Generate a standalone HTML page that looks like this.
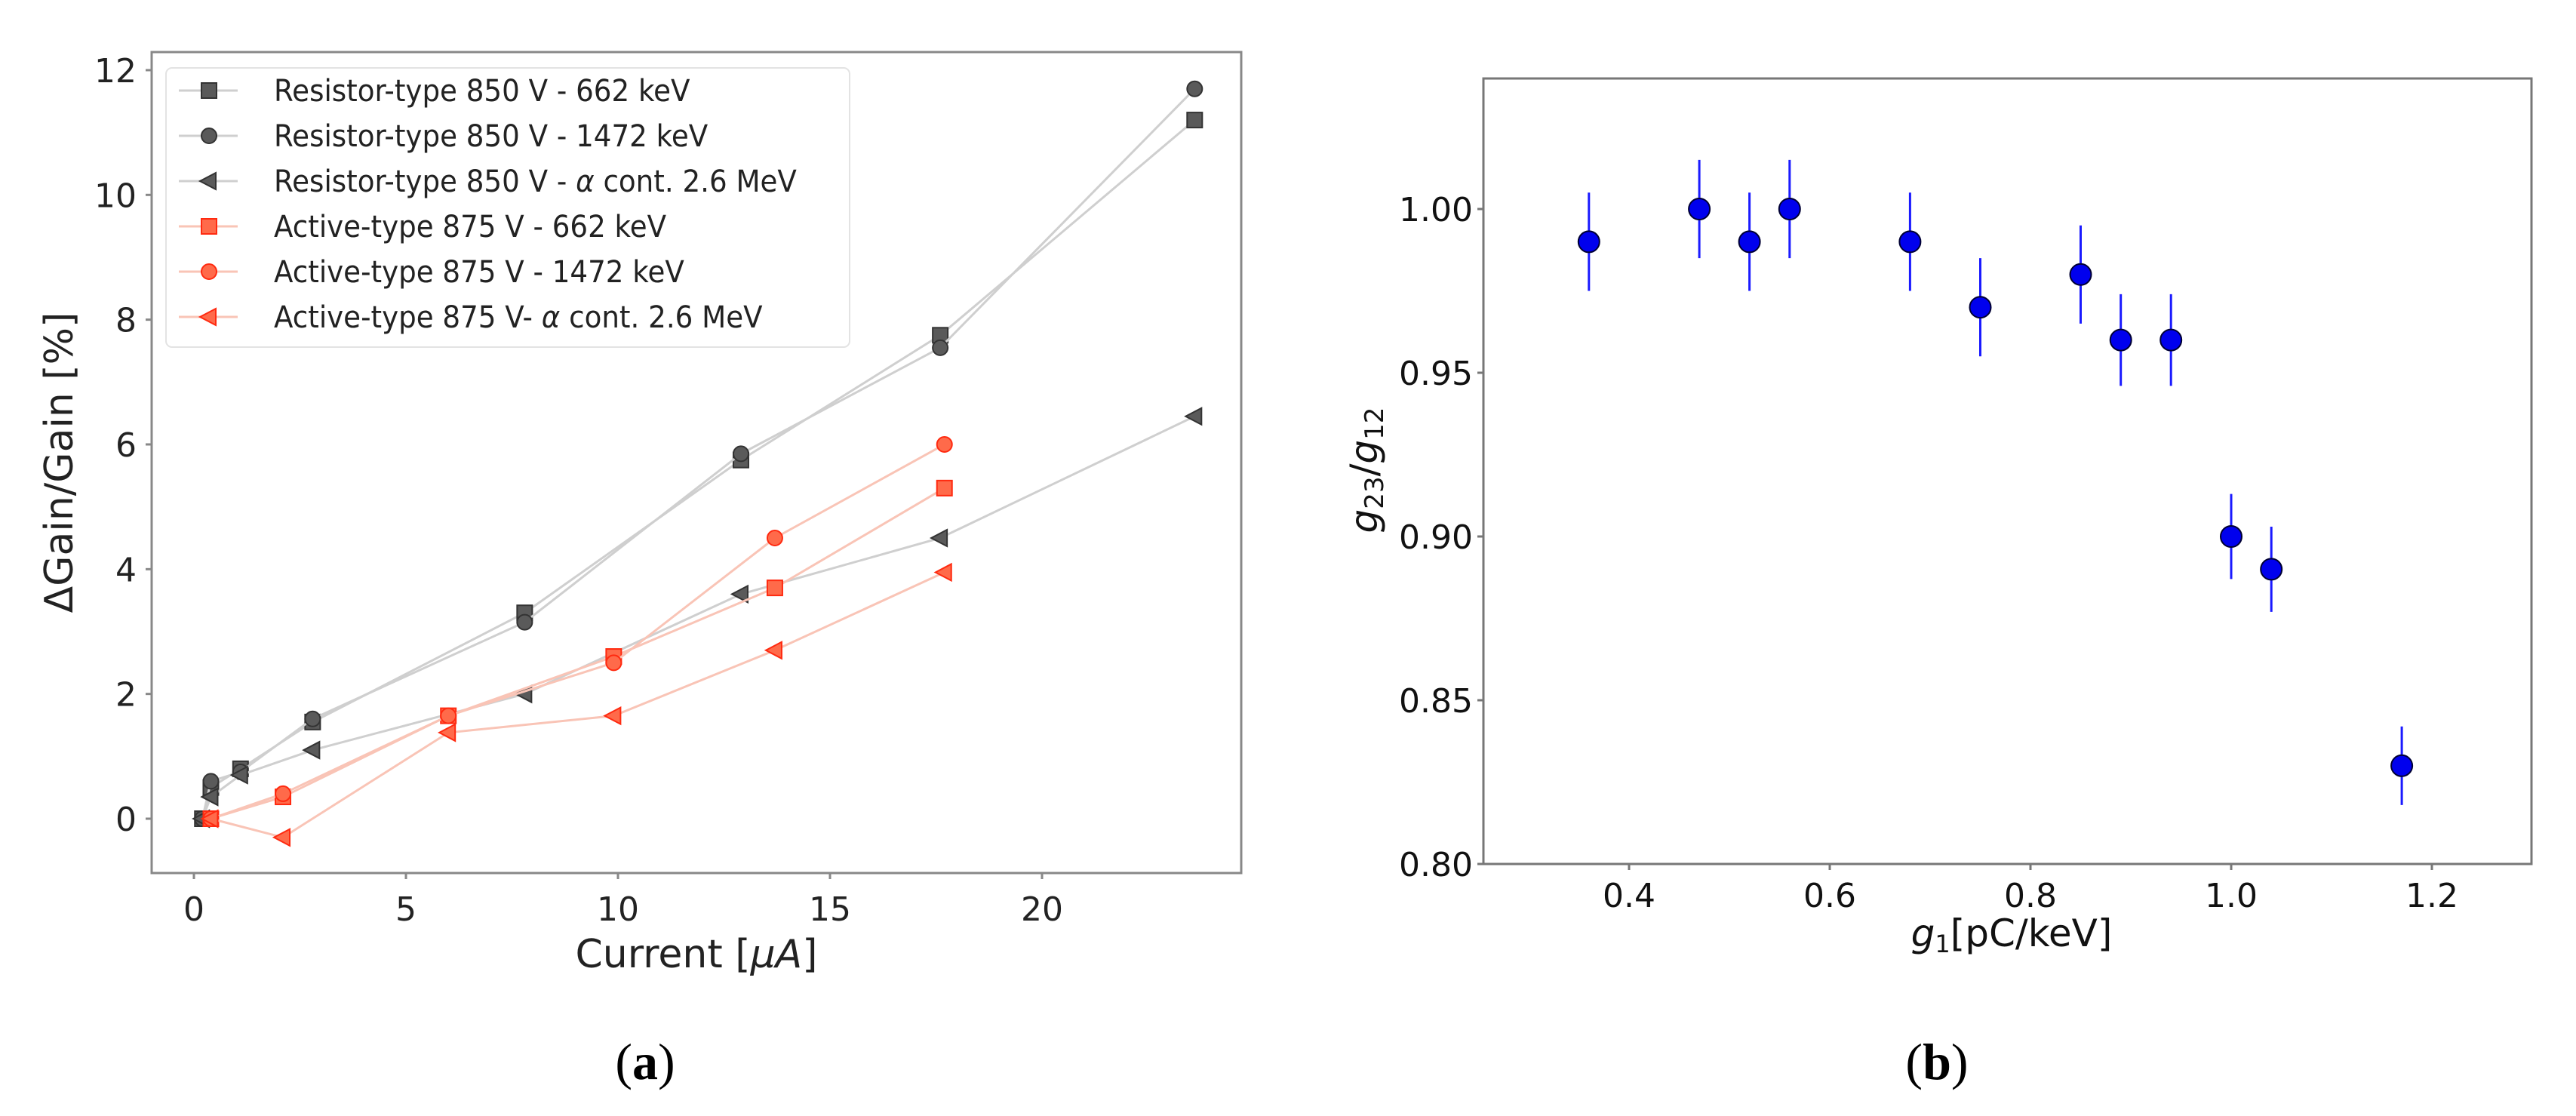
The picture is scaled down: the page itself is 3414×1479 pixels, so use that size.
<!DOCTYPE html>
<html><head><meta charset="utf-8"><style>
html,body{margin:0;padding:0;background:#fff;}
svg{display:block;font-family:"DejaVu Sans","Liberation Sans",sans-serif;}
</style></head><body>
<svg id="fig" width="3414" height="1479" viewBox="0 0 3414 1479" xmlns="http://www.w3.org/2000/svg">
<rect width="3414" height="1479" fill="#fff"/>
<g id="pa"></g>
<g id="pb"></g>
<text x="855" y="1430" font-family="Liberation Serif,serif" font-size="68" text-anchor="middle">(<tspan font-weight="bold">a</tspan>)</text>
<text x="2567" y="1430" font-family="Liberation Serif,serif" font-size="68" text-anchor="middle">(<tspan font-weight="bold">b</tspan>)</text>
</svg>
<script>
// Panel A data
const resCurrent=[0.2,0.4,1.1,2.8,7.8,12.9,17.6,23.6];
const res662=[0,0.5,0.8,1.55,3.3,5.75,7.75,11.2];
const res1472=[0,0.6,0.75,1.6,3.15,5.85,7.55,11.7];
const resAlpha=[0,0.35,0.7,1.1,2.0,3.6,4.5,6.45];
const actCurrent=[0.4,2.1,6.0,9.9,13.7,17.7];
const act662=[0,0.35,1.65,2.6,3.7,5.3];
const act1472=[0,0.4,1.65,2.5,4.5,6.0];
const actAlpha=[0,-0.3,1.38,1.65,2.7,3.95];
const aXTicks=[0,5,10,15,20];
const aYTicks=[0,2,4,6,8,10,12];
const legendLabels=["Resistor-type 850 V - 662 keV","Resistor-type 850 V - 1472 keV","Resistor-type 850 V - \u03b1 cont. 2.6 MeV","Active-type 875 V - 662 keV","Active-type 875 V - 1472 keV","Active-type 875 V- \u03b1 cont. 2.6 MeV"];
// Panel B data
const gOne=[0.36,0.47,0.52,0.56,0.68,0.75,0.85,0.89,0.94,1.00,1.04,1.17];
const gRatio=[0.99,1.00,0.99,1.00,0.99,0.97,0.98,0.96,0.96,0.90,0.89,0.83];
const gErr=[0.015,0.015,0.015,0.015,0.015,0.015,0.015,0.014,0.014,0.013,0.013,0.012];
const bXTicks=[0.4,0.6,0.8,1.0,1.2];
const bYTicks=[0.80,0.85,0.90,0.95,1.00];

const NS="http://www.w3.org/2000/svg";
function mk(parent,tag,attrs){const e=document.createElementNS(NS,tag);for(const k in attrs)e.setAttribute(k,attrs[k]);parent.appendChild(e);return e;}

// ---- Panel A ----
const pa=document.getElementById('pa');
const AL=201,AR=1645,AT=69,AB=1157;
const ax=v=>257+(v)*56.2;
const ay=v=>1085-v*82.67;
const fr=mk(pa,'rect',{x:AL,y:AT,width:AR-AL,height:AB-AT,fill:'none',stroke:'#888','stroke-width':3});

aXTicks.forEach(t=>{
 const l=mk(pa,'line',{x1:ax(t),x2:ax(t),y1:AB,y2:AB+8,stroke:'#888','stroke-width':3});
 
 const tx=mk(pa,'text',{x:ax(t),y:AB+63,'font-size':44,'text-anchor':'middle',fill:'#222'});tx.textContent=t;
 
});
aYTicks.forEach(t=>{
 const l=mk(pa,'line',{x1:AL-8,x2:AL,y1:ay(t),y2:ay(t),stroke:'#888','stroke-width':3});
 
 const tx=mk(pa,'text',{x:AL-20,y:ay(t)+16,'font-size':44,'text-anchor':'end',fill:'#222'});tx.textContent=t;
 
});
const xl=mk(pa,'text',{x:923,y:1282,'font-size':52,'text-anchor':'middle',fill:'#222'});xl.innerHTML='Current [<tspan font-style="italic">\u03bcA</tspan>]';

const yl=mk(pa,'text',{x:0,y:0,'font-size':52,'text-anchor':'middle',fill:'#222',transform:'translate(96,613) rotate(-90)'});yl.textContent='\u0394Gain/Gain [%]';


const gray={line:'#cfcfcf',fill:'#5a5a5a',edge:'#333'};
const red={line:'#f9c4b6',fill:'#ff6a4a',edge:'#ff2a10'};
function marker(g,type,cx,cy,st){
 let e;
 if(type==='s') e=mk(g,'rect',{x:cx-10,y:cy-10,width:20,height:20});
 else if(type==='o') e=mk(g,'circle',{cx:cx,cy:cy,r:10});
 else e=mk(g,'polygon',{points:`${cx-12},${cy} ${cx+9},${cy-11} ${cx+9},${cy+11}`});
 e.setAttribute('fill',st.fill);e.setAttribute('stroke',st.edge);e.setAttribute('stroke-width',2);
 return e;
}
const series=[[resCurrent,res662,'s',gray],[resCurrent,res1472,'o',gray],[resCurrent,resAlpha,'<',gray],[actCurrent,act662,'s',red],[actCurrent,act1472,'o',red],[actCurrent,actAlpha,'<',red]];
const snames=['res-662','res-1472','res-alpha','act-662','act-1472','act-alpha'];
series.forEach((s,i)=>{
 const g=mk(pa,'g',{});
 
 const pl=mk(g,'polyline',{points:s[0].map((x,j)=>ax(x)+','+ay(s[1][j])).join(' '),fill:'none',stroke:s[3].line,'stroke-width':3});
 
 s[0].forEach((x,j)=>{const m=marker(g,s[2],ax(x),ay(s[1][j]),s[3]);
  });
});
// legend
const lg=mk(pa,'g',{});

mk(lg,'rect',{x:220,y:90,width:906,height:370,rx:8,fill:'#fff','fill-opacity':0.85,stroke:'#e3e3e3','stroke-width':2});
legendLabels.forEach((lab,i)=>{
 const y=120+i*60;const s=series[i];
 const e=mk(lg,'g',{});
 
 mk(e,'line',{x1:237,x2:315,y1:y,y2:y,stroke:s[3].line,'stroke-width':3});
 marker(e,s[2],277,y,s[3]);
 const t=mk(e,'text',{x:363,y:y+14,'font-size':40,fill:'#222'});
 t.innerHTML=lab.replace('\u03b1','<tspan font-style="italic">\u03b1</tspan>');
 const w=t.getComputedTextLength();
 if(w>0){t.setAttribute('textLength',(w*0.93).toFixed(1));t.setAttribute('lengthAdjust','spacingAndGlyphs');}
});

// ---- Panel B ----
const pb=document.getElementById('pb');
const BL=1966,BR=3355,BT=104,BB=1145;
const bx=v=>2957+(v-1.0)*1330;
const by=v=>277+(1.0-v)*4340;
const fb=mk(pb,'rect',{x:BL,y:BT,width:BR-BL,height:BB-BT,fill:'none',stroke:'#777','stroke-width':3});

bXTicks.forEach(t=>{
 const l=mk(pb,'line',{x1:bx(t),x2:bx(t),y1:BB,y2:BB+8,stroke:'#777','stroke-width':3});
 
 const tx=mk(pb,'text',{x:bx(t),y:BB+57,'font-size':44,'text-anchor':'middle',fill:'#111'});tx.textContent=t.toFixed(1);
 
});
bYTicks.forEach(t=>{
 const l=mk(pb,'line',{x1:BL-8,x2:BL,y1:by(t),y2:by(t),stroke:'#777','stroke-width':3});
 
 const tx=mk(pb,'text',{x:BL-14,y:by(t)+16,'font-size':44,'text-anchor':'end',fill:'#111'});tx.textContent=t.toFixed(2);
 
});
const bxl=mk(pb,'text',{x:2666,y:1254,'font-size':50,'text-anchor':'middle',fill:'#111'});
bxl.innerHTML='<tspan font-style="italic">g</tspan><tspan font-size="32" dy="8">1</tspan><tspan dy="-8">[pC/keV]</tspan>';

const byl=mk(pb,'text',{x:0,y:0,'font-size':50,'text-anchor':'middle',fill:'#111',transform:'translate(1825,623) rotate(-90)'});
byl.innerHTML='<tspan font-style="italic">g</tspan><tspan font-size="34" dy="8">23</tspan><tspan dy="-8">/</tspan><tspan font-style="italic">g</tspan><tspan font-size="34" dy="8">12</tspan>';

gOne.forEach((x,i)=>{
 const g=mk(pb,'g',{});
 
 const eb=mk(g,'line',{x1:bx(x),x2:bx(x),y1:by(gRatio[i]+gErr[i]),y2:by(gRatio[i]-gErr[i]),stroke:'#1a1aff','stroke-width':3});
 
 const c=mk(g,'circle',{cx:bx(x),cy:by(gRatio[i]),r:14,fill:'#0000ee',stroke:'#000033','stroke-width':2});
 
});
</script>
</body></html>
